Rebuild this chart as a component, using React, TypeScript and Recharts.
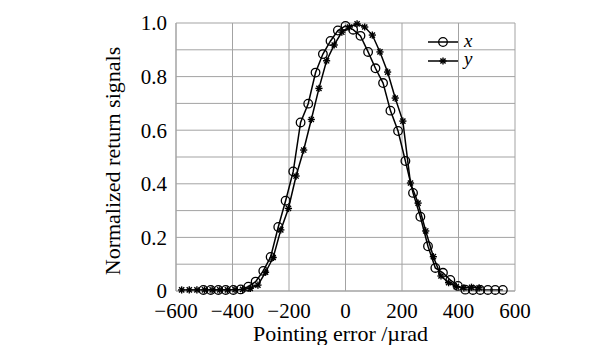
import React from 'react';
import { LineChart, Line, XAxis, YAxis, CartesianGrid, Label } from 'recharts';

// x-direction scan (circles)
const xScanPos = [
  -503, -477, -450, -424, -397, -371, -344, -318, -291, -265, -238, -212, -185, -159,
  -132, -106, -80, -53, -27, 0, 27, 53, 80, 106, 133, 159, 186, 212, 239, 265,
  292, 318, 345, 371, 398, 424, 451, 477, 504, 530, 557,
];
const xScanVal = [
  0.004, 0.004, 0.004, 0.004, 0.004, 0.006, 0.016, 0.035, 0.075, 0.127, 0.239, 0.337,
  0.446, 0.629, 0.699, 0.815, 0.884, 0.933, 0.972, 0.989, 0.975, 0.952, 0.892, 0.831,
  0.776, 0.673, 0.597, 0.485, 0.366, 0.277, 0.167, 0.086, 0.068, 0.041, 0.019, 0.005,
  0.004, 0.004, 0.004, 0.004, 0.004,
];

// y-direction scan (asterisks)
const yScanPos = [
  -580, -553, -526, -499, -472, -445, -418, -391, -364, -337, -310, -283, -256, -229,
  -202, -175, -148, -121, -94, -67, -40, -13, 14, 41, 68, 95, 122, 149, 176, 203,
  230, 257, 284, 311, 338, 365, 392, 419, 446, 473,
];
const yScanVal = [
  0.004, 0.004, 0.004, 0.004, 0.004, 0.004, 0.004, 0.005, 0.006, 0.01, 0.022, 0.07,
  0.125, 0.228, 0.308, 0.429, 0.526, 0.64, 0.756, 0.859, 0.918, 0.966, 0.985, 0.997,
  0.985, 0.955, 0.892, 0.817, 0.72, 0.634, 0.403, 0.328, 0.224, 0.128, 0.056, 0.031,
  0.016, 0.012, 0.014, 0.012,
];

const xTicks = [-600, -400, -200, 0, 200, 400, 600];
const yTicks = [0, 0.1, 0.2, 0.3, 0.4, 0.5, 0.6, 0.7, 0.8, 0.9, 1.0];

const xData = xScanPos.map((p, i) => ({ pos: p, v: xScanVal[i] }));
const yData = yScanPos.map((p, i) => ({ pos: p, v: yScanVal[i] }));

const FONT = '"Liberation Serif", "Times New Roman", serif';
const GRID = '#a3a3a3';

const fmtX = (v: number) => (v < 0 ? '\u2212' + Math.abs(v) : String(v));
const fmtY = (v: number) => {
  const k = Math.round(v * 10);
  if (k % 2 !== 0) return '';
  return k === 0 ? '0' : v.toFixed(1);
};

const CircleDot = (props: any) => {
  const { cx, cy } = props;
  if (cx == null || cy == null) return null;
  return <circle cx={cx} cy={cy} r={4.3} fill="none" stroke="#000" strokeWidth={1.3} />;
};

const StarDot = (props: any) => {
  const { cx, cy } = props;
  if (cx == null || cy == null) return null;
  const r = 3.6;
  const d = r * 0.72;
  return (
    <g stroke="#000" strokeWidth={1.4}>
      <line x1={cx - r} y1={cy} x2={cx + r} y2={cy} />
      <line x1={cx} y1={cy - r} x2={cx} y2={cy + r} />
      <line x1={cx - d} y1={cy - d} x2={cx + d} y2={cy + d} />
      <line x1={cx - d} y1={cy + d} x2={cx + d} y2={cy - d} />
    </g>
  );
};

const YLabel = (props: any) => {
  const { x, y, height } = props.viewBox;
  const cx = x + 11;
  const cy = y + height / 2 + 4;
  return (
    <text x={cx} y={cy} transform={`rotate(-90, ${cx}, ${cy})`} textAnchor="middle"
      dominantBaseline="central" fontFamily={FONT} fontSize={22} fill="#000">
      Normalized return signals
    </text>
  );
};

const XLabel = (props: any) => {
  const { x, y, width, height } = props.viewBox;
  return (
    <text x={x + width / 2 - 5} y={y + height - 4} textAnchor="middle"
      fontFamily={FONT} fontSize={22} fill="#000">
      Pointing error /µrad
    </text>
  );
};

function LegendBox() {
  return (
    <svg width={80} height={52} style={{ position: 'absolute', left: 418, top: 22 }}>
      <line x1={2} y1={12} x2={32} y2={12} stroke="#000" strokeWidth={1.5} />
      <CircleDot cx={17} cy={12} />
      <text x={38} y={17} fontFamily={FONT} fontStyle="italic" fontSize={19}>x</text>
      <line x1={2} y1={31} x2={32} y2={31} stroke="#000" strokeWidth={1.5} />
      <StarDot cx={17} cy={31} />
      <text x={38} y={35} fontFamily={FONT} fontStyle="italic" fontSize={19}>y</text>
    </svg>
  );
}

export default function App() {
  const tickStyle = { fill: '#000', fontSize: 21, fontFamily: FONT };
  return (
    <div style={{ position: 'relative', width: 600, height: 337 }}>
      <LineChart width={600} height={337} margin={{ top: 15, right: 93, left: 93, bottom: 0 }}>
        <CartesianGrid stroke={GRID} strokeWidth={1} />
        <XAxis
          dataKey="pos"
          type="number"
          domain={[-600, 600]}
          ticks={xTicks}
          tickFormatter={fmtX}
          tick={tickStyle}
          tickLine={false}
          tickSize={0}
          tickMargin={12}
          axisLine={{ stroke: GRID }}
          height={54}
          allowDataOverflow
        >
          <Label content={XLabel} />
        </XAxis>
        <YAxis
          type="number"
          domain={[0, 1]}
          ticks={yTicks}
          tickFormatter={fmtY}
          tick={tickStyle}
          tickLine={false}
          tickSize={0}
          tickMargin={9}
          axisLine={{ stroke: GRID }}
          width={75}
          interval={0}
        >
          <Label content={YLabel} />
        </YAxis>
        <Line data={xData} dataKey="v" type="linear" stroke="#000" strokeWidth={1.5}
          dot={<CircleDot />} activeDot={false} isAnimationActive={false} name="x" />
        <Line data={yData} dataKey="v" type="linear" stroke="#000" strokeWidth={1.5}
          dot={<StarDot />} activeDot={false} isAnimationActive={false} name="y" />
      </LineChart>
      <LegendBox />
    </div>
  );
}
